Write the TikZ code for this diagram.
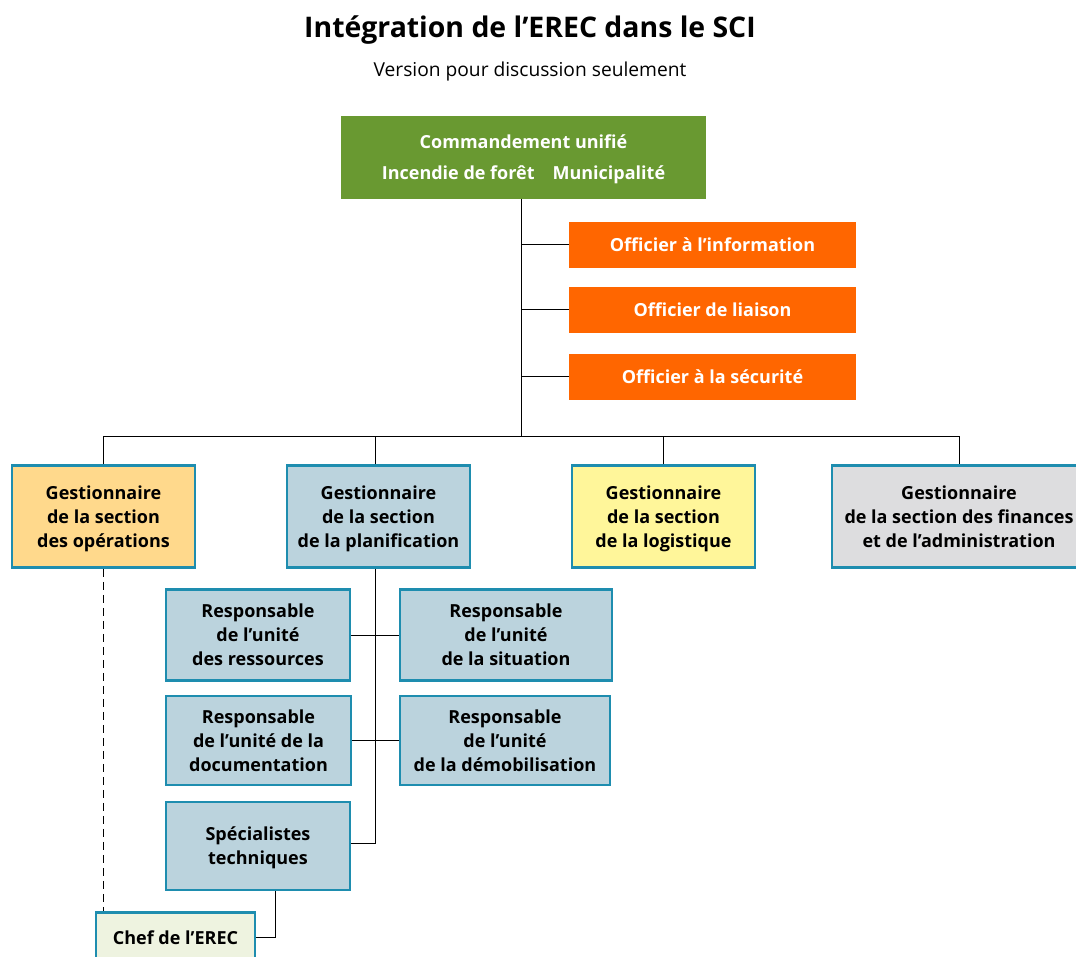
\documentclass[tikz,border=0pt]{standalone}
\usepackage{fontspec}
\setmainfont{Open Sans}
\usetikzlibrary{calc}
\definecolor{cmdgreen}{HTML}{699931}
\definecolor{offorange}{HTML}{FF6600}
\definecolor{boxteal}{HTML}{1E8DAF}
\definecolor{opsfill}{HTML}{FFD98C}
\definecolor{planfill}{HTML}{BBD3DD}
\definecolor{logfill}{HTML}{FFF69A}
\definecolor{finfill}{HTML}{DDDDDF}
\definecolor{cheffill}{HTML}{EEF3E0}
\newcommand\topstrt{\rule{0pt}{19pt}}
\newcommand\botstrt{\rule[-6pt]{0pt}{0pt}}
\tikzset{
  base/.style={inner sep=0pt, align=center, font=\fontsize{18}{24}\selectfont\bfseries},
  cmdbox/.style={base, fill=cmdgreen, text=white, font=\fontsize{18}{31}\selectfont\bfseries},
  offbox/.style={base, fill=offorange, text=white, minimum width=287pt, minimum height=46pt},
  secbox/.style={base, draw=boxteal, line width=2.6pt, text=black},
  conn/.style={line width=1pt, black},
}
\begin{document}
\begin{tikzpicture}[x=1pt,y=-1pt]
\useasboundingbox (0,0) rectangle (1076,956);
\node[font=\fontsize{28.4}{32}\selectfont\bfseries] (title) at (530,30) {Intégration de l’EREC dans le SCI};
\node[font=\fontsize{19.2}{22}\selectfont] (sub) at (530,72) {Version pour discussion seulement};

\node[cmdbox, minimum width=365pt, minimum height=83pt] (cmd) at (523.5,157) {\topstrt Commandement unifié\\Incendie de forêt\quad Municipalité\botstrt};
\node[offbox] (info) at (712.5,244.5) {\topstrt Officier à l’information\botstrt};
\node[offbox] (liai) at (712.5,309.5) {\topstrt Officier de liaison\botstrt};
\node[offbox] (secu) at (712.5,376.5) {\topstrt Officier à la sécurité\botstrt};

\node[secbox, fill=opsfill, minimum width=183pt, minimum height=102pt] (ops) at (103.5,516.5) {\topstrt Gestionnaire\\de la section\\des opérations\botstrt};
\node[secbox, fill=planfill, minimum width=183pt, minimum height=102pt] (plan) at (378.5,516.5) {\topstrt Gestionnaire\\de la section\\de la planification\botstrt};
\node[secbox, fill=logfill, minimum width=183pt, minimum height=102pt] (log) at (663.5,516.5) {\topstrt Gestionnaire\\de la section\\de la logistique\botstrt};
\node[secbox, fill=finfill, minimum width=254pt, minimum height=102pt] (fin) at (959,516.5) {\topstrt Gestionnaire\\de la section des finances\\et de l’administration\botstrt};

\node[secbox, fill=planfill, minimum width=184pt, minimum height=91pt] (res) at (258,635) {\topstrt Responsable\\de l’unité\\des ressources\botstrt};
\node[secbox, fill=planfill, minimum width=212pt, minimum height=91pt] (sit) at (506,635) {\topstrt Responsable\\de l’unité\\de la situation\botstrt};
\node[secbox, fill=planfill, minimum width=185pt, minimum height=89pt] (doc) at (258.5,740.5) {\topstrt Responsable\\de l’unité de la\\documentation\botstrt};
\node[secbox, fill=planfill, minimum width=210pt, minimum height=89pt] (dem) at (505,740.5) {\topstrt Responsable\\de l’unité\\de la démobilisation\botstrt};
\node[secbox, fill=planfill, minimum width=184pt, minimum height=88pt] (spec) at (258,846) {\topstrt Spécialistes\\techniques\botstrt};
\node[secbox, fill=cheffill, minimum width=159pt, minimum height=50pt] (chef) at (175.5,937.5) {\topstrt Chef de l’EREC\botstrt};

\coordinate (trunk) at (521,436);
\coordinate (pv) at (375,843);
\coordinate (sc) at (275,0);

\draw[conn] (cmd.south -| trunk) -- (trunk);
\draw[conn] (info.west) -- (info.west -| trunk);
\draw[conn] (liai.west) -- (liai.west -| trunk);
\draw[conn] (secu.west) -- (secu.west -| trunk);
\draw[conn] (ops.north |- trunk) -- (fin.north |- trunk);
\draw[conn] (ops.north) -- (ops.north |- trunk);
\draw[conn] (plan.north -| pv) -- (pv |- trunk);
\draw[conn] (log.north) -- (log.north |- trunk);
\draw[conn] (fin.north) -- (fin.north |- trunk);

\draw[conn] (plan.south -| pv) -- (pv) -- (pv -| spec.east);
\draw[conn] (res.east) -- (sit.west);
\draw[conn] (doc.east) -- (dem.west);
\draw[conn, dash pattern=on 8pt off 5pt] (ops.south) -- (ops.south |- chef.north);
\draw[conn] (spec.south -| sc) |- (chef.east);
\end{tikzpicture}
\end{document}
